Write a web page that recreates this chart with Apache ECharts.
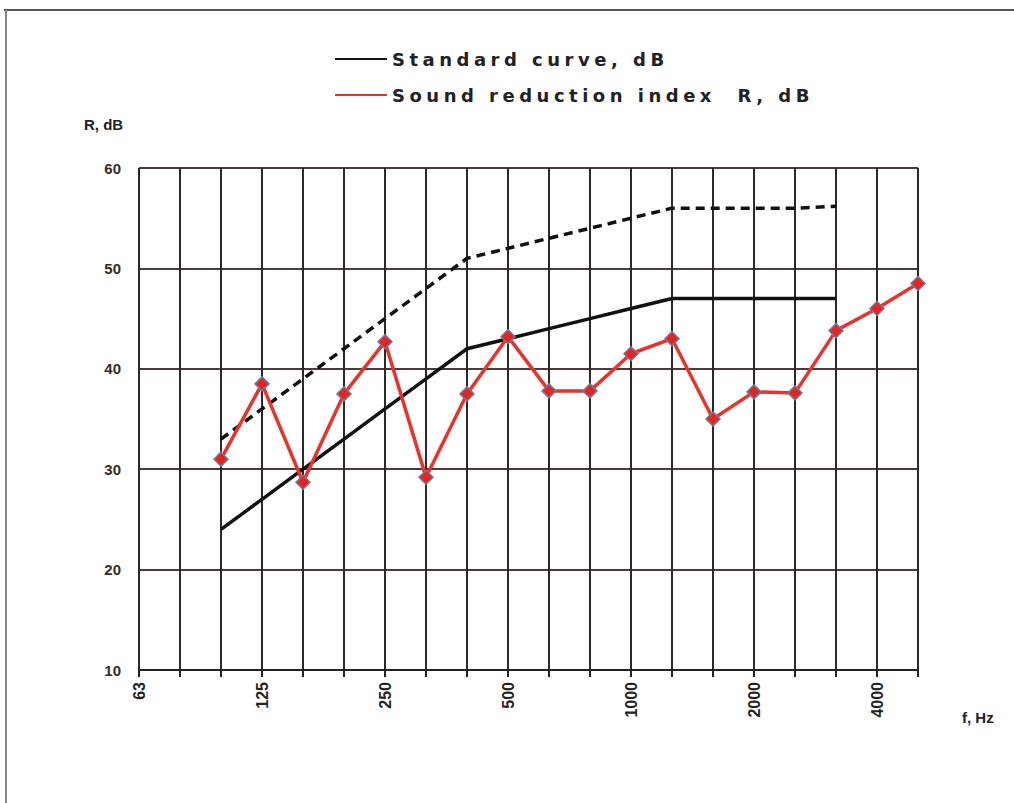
<!DOCTYPE html>
<html>
<head>
<meta charset="utf-8">
<script src="https://cdn.jsdelivr.net/npm/echarts@6/dist/echarts.min.js"></script>
<style>
  html, body { margin: 0; padding: 0; background: #fff; }
  #main { width: 1014px; height: 803px; }
</style>
</head>
<body>
<div id="main"></div>
<script>
// third-octave bands, Hz
var freqs = ['63', '80', '100', '125', '160', '200', '250', '315', '400', '500',
  '630', '800', '1000', '1250', '1600', '2000', '2500', '3150', '4000', '5000'];
// shifted reference curve (solid)
var standard = [null, null, 24, 27, 30, 33, 36, 39, 42, 43, 44, 45, 46, 47, 47, 47, 47, 47, null, null];
// unshifted reference curve (dashed)
var reference = [null, null, 33, 36, 39, 42, 45, 48, 51, 52, 53, 54, 55, 56, 56, 56, 56, 56.2, null, null];
// measured R
var measured = [null, null, 31, 38.5, 28.7, 37.5, 42.7, 29.2, 37.5, 43.2, 37.8, 37.8, 41.5, 43, 35, 37.7, 37.6, 43.8, 46, 48.5];

var legendNames = ['Standard curve, dB', 'Sound reduction index  R, dB'];

var chart = echarts.init(document.getElementById('main'), null, { renderer: 'svg' });
var font = 'Arial, "Liberation Sans", sans-serif';

chart.setOption({
  backgroundColor: '#fff',
  animation: false,
  graphic: [
    { type: 'line', shape: { x1: 4, y1: 10, x2: 1014, y2: 10 }, style: { stroke: '#555', lineWidth: 2 } },
    { type: 'line', shape: { x1: 6, y1: 10, x2: 6, y2: 803 }, style: { stroke: '#888', lineWidth: 2 } },
    { type: 'text', left: 84, top: 117, style: { text: 'R, dB', font: 'bold 15px ' + font, fill: '#222' } },
    { type: 'text', left: 962, top: 710, style: { text: 'f, Hz', font: 'bold 15px ' + font, fill: '#222' } }
  ],
  legend: {
    orient: 'vertical',
    left: 330,
    top: 45,
    itemGap: 18,
    itemWidth: 52,
    itemHeight: 2,
    icon: 'rect',
    data: [
      { name: legendNames[0], itemStyle: { color: '#111', borderWidth: 0 } },
      { name: legendNames[1], itemStyle: { color: '#e8322a', borderWidth: 0 } }
    ],
    textStyle: { fontFamily: '"DejaVu Sans", sans-serif', fontSize: 18, fontWeight: 'bold', color: '#222' }
  },
  grid: { left: 139, right: 96, top: 168, bottom: 133 },
  xAxis: {
    type: 'category',
    data: freqs,
    boundaryGap: false,
    axisLine: { lineStyle: { color: '#222', width: 2 } },
    axisTick: { interval: 0, length: 7, lineStyle: { color: '#222', width: 2 } },
    axisLabel: {
      interval: 2, rotate: 90, margin: 12,
      fontFamily: font, fontSize: 16, fontWeight: 'bold', color: '#222'
    },
    splitLine: { show: true, interval: 0, lineStyle: { color: '#2a2a2a', width: 2 } }
  },
  yAxis: {
    type: 'value',
    min: 10, max: 60, interval: 10,
    axisLine: { show: false },
    axisTick: { show: false },
    axisLabel: { margin: 18, fontFamily: font, fontSize: 15, fontWeight: 'bold', color: '#3a2a22' },
    splitLine: { lineStyle: { color: '#4a3a38', width: 2 } }
  },
  series: [
    {
      name: legendNames[0],
      type: 'line',
      data: standard,
      symbol: 'none',
      itemStyle: { color: '#111' },
      lineStyle: { color: '#111', width: 3.5 }
    },
    {
      name: 'reference',
      type: 'line',
      data: reference,
      symbol: 'none',
      itemStyle: { color: '#111' },
      lineStyle: { color: '#111', width: 3.5, type: [9, 6] }
    },
    {
      name: legendNames[1],
      type: 'line',
      data: measured,
      symbol: 'diamond',
      symbolSize: 14,
      itemStyle: { color: '#e8231e', borderColor: '#6d7a9a', borderWidth: 1.5 },
      lineStyle: { color: '#e8322a', width: 3.5 }
    }
  ]
});

// the scanned legend uses widely spaced lettering
function spaceLegend() {
  document.querySelectorAll('#main text').forEach(function (t) {
    if (legendNames.indexOf(t.textContent) >= 0) {
      t.style.letterSpacing = '4.5px';
    }
  });
}
chart.on('finished', spaceLegend);
setTimeout(spaceLegend, 50);
</script>
</body>
</html>
